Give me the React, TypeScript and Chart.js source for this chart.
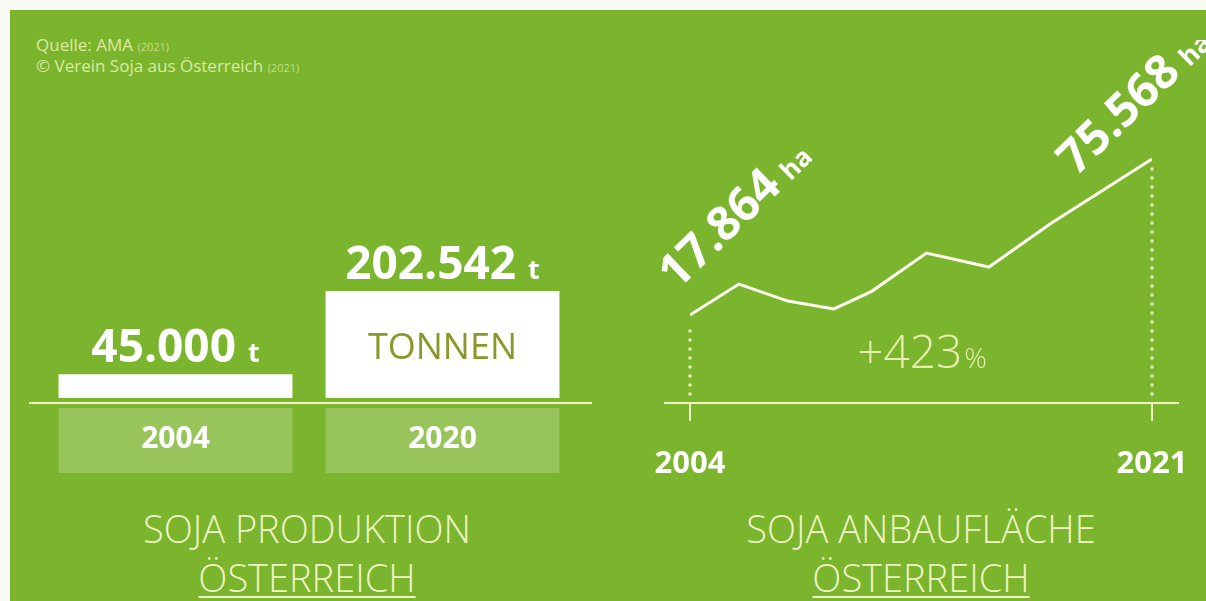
import React, { useEffect, useRef } from "react";
import { Chart, registerables } from "chart.js";

Chart.register(...registerables);

// ---- data ----
const productionYears = ["2004", "2020"];
const productionTonnes = [45000, 202542];
const productionUnit = "t";
const productionInnerLabel = "TONNEN";

const areaYears = [2004, 2005.8, 2007.6, 2009.3, 2010.7, 2012.7, 2015.0, 2017.3, 2021];
const areaHectares = [17864, 29300, 23000, 20100, 26700, 40800, 35600, 51900, 75568];
const areaUnit = "ha";
const areaAxisLabels = [2004, 2021];
const areaGrowth = "+423";

const sourceLines = [
  { text: "Quelle: AMA", year: "(2021)" },
  { text: "© Verein Soja aus Österreich", year: "(2021)" },
];
const leftTitle = ["SOJA PRODUKTION", "ÖSTERREICH"];
const rightTitle = ["SOJA ANBAUFLÄCHE", "ÖSTERREICH"];

// ---- styles ----
const FONT = '"Open Sans", "Noto Sans", sans-serif';
const GREEN = "#7bb52d";
const LIGHT = "#eef4c4";
const WHITE = "#ffffff";

const fmt = (n: number) =>
  String(Math.round(n)).replace(/\B(?=(\d{3})+(?!\d))/g, ".");

function drawValueWithUnit(
  ctx: CanvasRenderingContext2D,
  value: string,
  unit: string,
  cx: number,
  y: number,
  big: number,
  small: number
) {
  ctx.save();
  ctx.textBaseline = "alphabetic";
  ctx.textAlign = "left";
  ctx.font = `bold ${big}px ${FONT}`;
  const w1 = ctx.measureText(value + " ").width;
  ctx.font = `bold ${small}px ${FONT}`;
  const w2 = ctx.measureText(unit).width;
  const x0 = cx - (w1 + w2) / 2;
  ctx.fillStyle = WHITE;
  ctx.font = `bold ${big}px ${FONT}`;
  ctx.fillText(value, x0, y);
  ctx.font = `bold ${small}px ${FONT}`;
  ctx.fillText(unit, x0 + w1, y);
  ctx.restore();
}

function BarPanel() {
  const ref = useRef<HTMLCanvasElement>(null);
  useEffect(() => {
    if (!ref.current) return;
    const deco = {
      id: "barDeco",
      afterDatasetsDraw(chart: any) {
        const ctx = chart.ctx as CanvasRenderingContext2D;
        const bottom = chart.chartArea.bottom;
        ctx.save();
        ctx.strokeStyle = LIGHT;
        ctx.lineWidth = 2;
        ctx.beginPath();
        ctx.moveTo(29, bottom + 5);
        ctx.lineTo(592, bottom + 5);
        ctx.stroke();
        const meta = chart.getDatasetMeta(0);
        meta.data.forEach((bar: any, i: number) => {
          const { x, y, width } = bar.getProps(["x", "y", "width"], true);
          ctx.fillStyle = "rgba(255,255,255,0.22)";
          ctx.fillRect(x - width / 2, bottom + 10, width, 65);
          ctx.fillStyle = WHITE;
          ctx.font = `bold 30px ${FONT}`;
          ctx.textAlign = "center";
          ctx.textBaseline = "middle";
          ctx.fillText(productionYears[i], x, bottom + 41);
          drawValueWithUnit(ctx, fmt(productionTonnes[i]), productionUnit, x, y - 12, 46, 27);
          if (i === productionTonnes.length - 1) {
            ctx.fillStyle = "#899829";
            ctx.font = `36px ${FONT}`;
            ctx.textAlign = "center";
            ctx.textBaseline = "middle";
            ctx.fillText(productionInnerLabel, x, (y + bottom) / 2 + 4);
          }
        });
        ctx.restore();
      },
    };
    const chart = new Chart(ref.current, {
      type: "bar",
      data: {
        labels: productionYears,
        datasets: [
          {
            data: productionTonnes,
            backgroundColor: WHITE,
            borderWidth: 0,
            barPercentage: 0.876,
            categoryPercentage: 1,
          },
        ],
      },
      options: {
        animation: false,
        responsive: false,
        devicePixelRatio: 1,
        layout: { padding: { left: 42, right: 24, top: 0, bottom: 92 } },
        plugins: { legend: { display: false }, tooltip: { enabled: false } },
        scales: {
          x: { display: false },
          y: { display: false, min: 0, max: 375000 },
        },
      },
      plugins: [deco],
    });
    return () => chart.destroy();
  }, []);
  return (
    <canvas
      ref={ref}
      width={600}
      height={290}
      style={{ position: "absolute", left: 0, top: 200, width: 600, height: 290 }}
    />
  );
}

function LinePanel() {
  const ref = useRef<HTMLCanvasElement>(null);
  useEffect(() => {
    if (!ref.current) return;
    const deco = {
      id: "lineDeco",
      beforeDatasetsDraw(chart: any) {
        const ctx = chart.ctx as CanvasRenderingContext2D;
        const { bottom } = chart.chartArea;
        const xs = chart.scales.x;
        const meta = chart.getDatasetMeta(0);
        ctx.save();
        ctx.strokeStyle = LIGHT;
        ctx.lineWidth = 2;
        ctx.beginPath();
        ctx.moveTo(24, bottom);
        ctx.lineTo(539, bottom);
        ctx.stroke();
        areaAxisLabels.forEach((yr) => {
          const px = xs.getPixelForValue(yr);
          ctx.beginPath();
          ctx.moveTo(px, bottom);
          ctx.lineTo(px, bottom + 18);
          ctx.stroke();
          ctx.fillStyle = WHITE;
          ctx.font = `bold 31px ${FONT}`;
          ctx.textAlign = "center";
          ctx.textBaseline = "middle";
          ctx.fillText(String(yr), px, bottom + 61);
        });
        // dotted drop lines
        const pts = [meta.data[0], meta.data[meta.data.length - 1]];
        ctx.fillStyle = LIGHT;
        pts.forEach((p: any) => {
          for (let yy = bottom - 9; yy > p.y + 9; yy -= 9) {
            ctx.beginPath();
            ctx.arc(p.x, yy, 1.7, 0, Math.PI * 2);
            ctx.fill();
          }
        });
        // growth label
        const cx = (xs.getPixelForValue(areaAxisLabels[0]) + xs.getPixelForValue(areaAxisLabels[1])) / 2;
        ctx.font = `300 46px ${FONT}`;
        const w1 = ctx.measureText(areaGrowth).width;
        ctx.font = `300 28px ${FONT}`;
        const w2 = ctx.measureText("%").width;
        const x0 = cx - (w1 + w2) / 2;
        ctx.fillStyle = "#e6efae";
        ctx.textAlign = "left";
        ctx.textBaseline = "alphabetic";
        ctx.font = `300 46px ${FONT}`;
        ctx.fillText(areaGrowth, x0, 328);
        ctx.font = `300 28px ${FONT}`;
        ctx.fillText("%", x0 + w1 + 2, 328);
        ctx.restore();
      },
      afterDatasetsDraw(chart: any) {
        const ctx = chart.ctx as CanvasRenderingContext2D;
        const meta = chart.getDatasetMeta(0);
        const first = meta.data[0];
        const last = meta.data[meta.data.length - 1];
        const drawRot = (val: number, x: number, y: number) => {
          ctx.save();
          ctx.translate(x, y);
          ctx.rotate((-44 * Math.PI) / 180);
          ctx.fillStyle = WHITE;
          ctx.textAlign = "left";
          ctx.textBaseline = "alphabetic";
          ctx.font = `bold 47px ${FONT}`;
          const w = ctx.measureText(fmt(val)).width;
          ctx.fillText(fmt(val), 0, 0);
          ctx.font = `bold 26px ${FONT}`;
          ctx.fillText(areaUnit, w + 10, 0);
          ctx.restore();
        };
        drawRot(areaHectares[0], first.x - 13, first.y - 24);
        drawRot(areaHectares[areaHectares.length - 1], last.x - 76, last.y + 18);
      },
    };
    const chart = new Chart(ref.current, {
      type: "line",
      data: {
        datasets: [
          {
            data: areaYears.map((x, i) => ({ x, y: areaHectares[i] })),
            borderColor: "#fdfdf0",
            borderWidth: 3,
            pointRadius: 0,
            tension: 0,
            borderJoinStyle: "miter",
          },
        ],
      },
      options: {
        animation: false,
        responsive: false,
        devicePixelRatio: 1,
        layout: { padding: { left: 50, right: 54, top: 100, bottom: 97 } },
        plugins: { legend: { display: false }, tooltip: { enabled: false } },
        scales: {
          x: { type: "linear", display: false, min: 2004, max: 2021 },
          y: { display: false, min: -14700, max: 82600 },
        },
      },
      plugins: [deco],
    });
    return () => chart.destroy();
  }, []);
  return (
    <canvas
      ref={ref}
      width={566}
      height={460}
      style={{ position: "absolute", left: 640, top: 40, width: 566, height: 460 }}
    />
  );
}

function Title({ lines, cx }: { lines: string[]; cx: number }) {
  const common: React.CSSProperties = {
    position: "absolute",
    width: 500,
    left: cx - 250,
    textAlign: "center",
    color: LIGHT,
    fontFamily: FONT,
    fontWeight: 300,
    fontSize: 38,
    lineHeight: "40px",
    whiteSpace: "nowrap",
  };
  return (
    <>
      <div style={{ ...common, top: 508 }}>{lines[0]}</div>
      <div style={{ ...common, top: 557 }}>
        <span style={{ textDecoration: "underline", textDecorationThickness: 2, textUnderlineOffset: 4 }}>
          {lines[1]}
        </span>
      </div>
    </>
  );
}

export default function App() {
  return (
    <div
      style={{
        position: "fixed",
        left: 0,
        top: 0,
        width: 1206,
        height: 601,
        background: "#fbfbf6",
        overflow: "hidden",
      }}
    >
      <div
        style={{
          position: "absolute",
          left: 10,
          top: 10,
          width: 1196,
          height: 591,
          background: GREEN,
        }}
      />
      <div
        style={{
          position: "absolute",
          left: 36,
          top: 35,
          fontFamily: FONT,
          fontSize: 17,
          lineHeight: "19px",
          color: "#dbe9a2",
        }}
      >
        {sourceLines.map((l, i) => (
          <div key={i}>
            {l.text} <span style={{ fontSize: 11, color: "#c5dc86" }}>{l.year}</span>
          </div>
        ))}
      </div>
      <BarPanel />
      <LinePanel />
      <Title lines={leftTitle} cx={307} />
      <Title lines={rightTitle} cx={921} />
    </div>
  );
}
